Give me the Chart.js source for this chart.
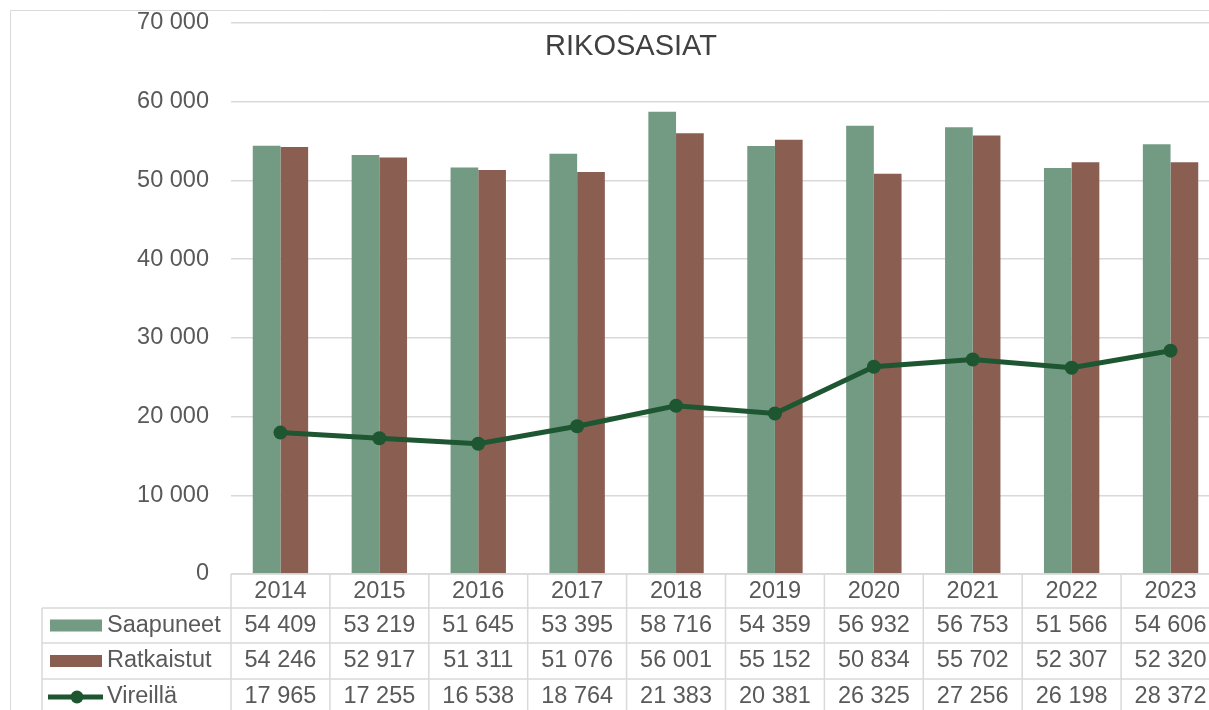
<!DOCTYPE html>
<html>
<head>
<meta charset="utf-8">
<script src="https://cdn.jsdelivr.net/npm/chart.js@4"></script>
<style>
  html, body { margin: 0; padding: 0; overflow: hidden; background: #fff; width: 1209px; height: 710px; }
  #c { position: absolute; left: 10px; top: 10px; }
</style>
</head>
<body>
<canvas id="c" width="1241" height="701"></canvas>
<script>
// data
let years = ['2014', '2015', '2016', '2017', '2018', '2019', '2020', '2021', '2022', '2023'];
let saapuneet = [54409, 53219, 51645, 53395, 58716, 54359, 56932, 56753, 51566, 54606];
let ratkaistut = [54246, 52917, 51311, 51076, 56001, 55152, 50834, 55702, 52307, 52320];
let vireilla = [17965, 17255, 16538, 18764, 21383, 20381, 26325, 27256, 26198, 28372];
let seriesNames = ['Saapuneet', 'Ratkaistut', 'Vireillä'];
let titleText = 'RIKOSASIAT';

const green = '#739b84';
const brown = '#8b5e52';
const lineGreen = '#1e5631';
const gridCol = '#d9d9d9';
const textCol = '#595959';
const font = '"Liberation Sans", Arial, sans-serif';

// 54409 -> "54 409"
function fmt(n) {
    return String(n).replace(/\B(?=(\d{3})+(?!\d))/g, ' ');
}

//outer frame of the chart
const framePlugin = {
    id: 'framePlugin',
    beforeDraw(chart) {
        const ctx = chart.ctx;
        ctx.save();
        ctx.strokeStyle = gridCol;
        ctx.lineWidth = 1;
        ctx.beginPath();
        ctx.moveTo(0.5, chart.height);
        ctx.lineTo(0.5, 0.5);
        ctx.lineTo(chart.width, 0.5);
        ctx.stroke();
        ctx.restore();
    }
};

//title + data table under the plot
const tablePlugin = {
    id: 'tablePlugin',
    afterDraw(chart) {
        const ctx = chart.ctx;
        const x = chart.scales.x;
        const area = chart.chartArea;
        const colW = x.getPixelForValue(1) - x.getPixelForValue(0);
        const tableLeft = 32;
        const rowLines = [598, 633, 669];
        const bottom = chart.height;
        const allSeries = [saapuneet, ratkaistut, vireilla];

        ctx.save();
        // title
        ctx.fillStyle = '#404040';
        ctx.font = '29px ' + font;
        ctx.textAlign = 'center';
        ctx.textBaseline = 'middle';
        ctx.fillText(titleText, 621, 37);

        // grid lines of the table
        ctx.strokeStyle = gridCol;
        ctx.lineWidth = 1.5;
        ctx.beginPath();
        ctx.moveTo(area.left, area.bottom);
        ctx.lineTo(chart.width, area.bottom);
        rowLines.forEach((y) => {
            ctx.moveTo(tableLeft, y);
            ctx.lineTo(chart.width, y);
        });
        ctx.moveTo(tableLeft, rowLines[0]);
        ctx.lineTo(tableLeft, bottom);
        for (let i = 0; i <= years.length; i++) {
            const bx = x.getPixelForValue(0) - colW / 2 + i * colW;
            ctx.moveTo(bx, area.bottom);
            ctx.lineTo(bx, bottom);
        }
        ctx.stroke();

        // years
        ctx.fillStyle = textCol;
        ctx.font = '23.5px ' + font;
        ctx.textAlign = 'center';
        years.forEach((yr, i) => {
            ctx.fillText(yr, x.getPixelForValue(i), (area.bottom + rowLines[0]) / 2 + 1);
        });

        // values
        const rowMid = [615.5, 651, 687];
        allSeries.forEach((arr, r) => {
            arr.forEach((v, i) => {
                ctx.fillText(fmt(v), x.getPixelForValue(i), rowMid[r]);
            });
        });

        // legend keys
        ctx.fillStyle = green;
        ctx.fillRect(40, rowMid[0] - 6, 52, 12);
        ctx.fillStyle = brown;
        ctx.fillRect(40, rowMid[1] - 6, 52, 12);
        ctx.strokeStyle = lineGreen;
        ctx.lineWidth = 5;
        ctx.beginPath();
        ctx.moveTo(38, rowMid[2]);
        ctx.lineTo(93, rowMid[2]);
        ctx.stroke();
        ctx.fillStyle = lineGreen;
        ctx.beginPath();
        ctx.arc(67, rowMid[2], 6.5, 0, Math.PI * 2);
        ctx.fill();

        ctx.fillStyle = textCol;
        ctx.textAlign = 'left';
        seriesNames.forEach((name, r) => {
            ctx.fillText(name, 97, rowMid[r]);
        });
        ctx.restore();
    }
};

const ctx = document.getElementById('c');
new Chart(ctx, {
    type: 'bar',
    data: {
        labels: years,
        datasets: [{
            type: 'line',
            label: seriesNames[2],
            data: vireilla,
            borderColor: lineGreen,
            backgroundColor: lineGreen,
            borderWidth: 5,
            pointRadius: 7,
            pointBackgroundColor: lineGreen,
            pointBorderWidth: 0,
            tension: 0,
            order: 0
        }, {
            label: seriesNames[0],
            data: saapuneet,
            backgroundColor: green,
            categoryPercentage: 0.56,
            barPercentage: 1.0,
            order: 1
        }, {
            label: seriesNames[1],
            data: ratkaistut,
            backgroundColor: brown,
            categoryPercentage: 0.56,
            barPercentage: 1.0,
            order: 1
        }]
    },
    options: {
        responsive: false,
        animation: false,
        devicePixelRatio: 1,
        layout: { padding: { left: 1, right: 31, top: 13, bottom: 137 } },
        plugins: {
            legend: { display: false },
            title: { display: false },
            tooltip: { enabled: false }
        },
        scales: {
            x: {
                display: false,
                offset: true
            },
            y: {
                min: 0,
                max: 70000,
                border: { display: false },
                grid: { color: gridCol, lineWidth: 1.5, drawTicks: false },
                ticks: {
                    stepSize: 10000,
                    padding: 22,
                    color: textCol,
                    font: { family: font, size: 23.5 },
                    callback: (v) => fmt(v)
                },
                afterFit: (scale) => {
                    scale.width = 220;
                    scale.paddingTop = 0;
                    scale.paddingBottom = 0;
                }
            }
        }
    },
    plugins: [framePlugin, tablePlugin]
});
</script>
</body>
</html>
